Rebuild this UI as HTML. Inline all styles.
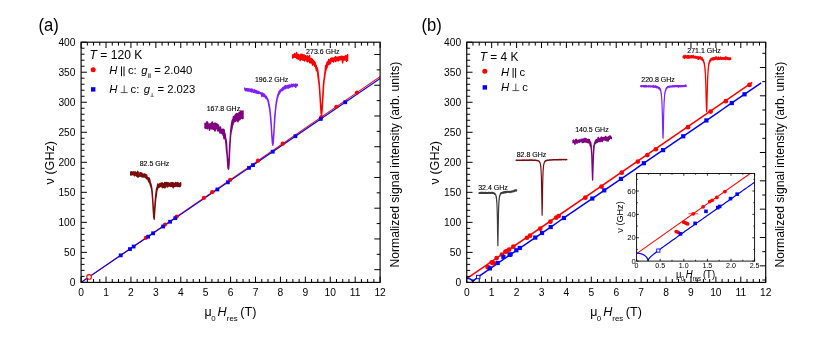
<!DOCTYPE html>
<html><head><meta charset="utf-8"><title>fig</title>
<style>
html,body{margin:0;padding:0;background:#fff;}
body{width:830px;height:342px;overflow:hidden;}
svg{display:block;will-change:transform;}
text{font-family:"Liberation Sans",sans-serif;fill:#000;}
.it{font-style:italic;}
</style></head><body>
<svg width="830" height="342" viewBox="0 0 830 342">
<rect width="830" height="342" fill="#fff"/>
<polygon points="130.7,171.9 131.2,172.7 131.7,171.7 132.2,173.1 132.7,172.8 133.2,171.7 133.7,173.1 134.2,172.1 134.7,172.5 135.2,171.8 135.7,173.2 136.2,173.6 136.7,172.4 137.2,172.4 137.7,171.3 138.2,172.3 138.7,173.0 139.2,173.9 139.7,173.3 140.2,172.7 140.7,172.8 141.2,173.7 141.7,173.0 142.2,173.6 142.7,174.2 143.2,174.1 143.7,174.1 144.2,174.4 144.7,174.0 145.2,174.2 145.7,175.6 146.2,174.8 146.7,175.2 147.2,177.3 147.7,177.8 148.2,177.6 148.7,179.2 149.2,178.1 149.7,179.4 150.2,182.3 150.7,183.4 151.2,185.3 151.7,187.6 152.2,191.9 152.7,199.2 153.2,206.3 153.7,214.5 154.2,215.0 154.7,208.9 155.2,200.9 155.7,195.6 156.2,191.3 156.7,188.0 157.2,187.4 157.7,184.0 158.2,184.9 158.7,185.6 159.2,184.0 159.7,184.2 160.2,183.3 160.7,184.3 161.2,183.2 161.7,183.8 162.2,182.8 162.7,183.3 163.2,183.7 163.7,184.7 164.2,183.9 164.7,182.5 165.2,182.6 165.7,184.5 166.2,182.5 166.7,183.8 167.2,182.6 167.7,183.3 168.2,182.8 168.7,183.4 169.2,183.3 169.7,183.9 170.2,183.3 170.7,182.9 171.2,182.7 171.7,182.9 172.2,183.0 172.7,182.6 173.2,183.8 173.7,183.0 174.2,183.5 174.7,183.5 175.2,183.5 175.7,182.4 176.2,183.7 176.7,183.0 177.2,183.0 177.7,182.5 178.2,183.0 178.7,184.0 179.2,183.7 179.7,183.9 180.2,182.9 180.7,182.8 180.7,185.6 180.2,186.5 179.7,185.4 179.2,186.7 178.7,185.6 178.2,186.2 177.7,186.0 177.2,186.4 176.7,185.9 176.2,186.1 175.7,186.1 175.2,186.5 174.7,186.5 174.2,185.8 173.7,184.8 173.2,187.8 172.7,186.7 172.2,185.8 171.7,186.2 171.2,186.2 170.7,184.9 170.2,186.5 169.7,186.0 169.2,185.1 168.7,185.2 168.2,186.5 167.7,186.3 167.2,187.0 166.7,185.6 166.2,185.2 165.7,185.9 165.2,187.6 164.7,186.1 164.2,187.7 163.7,185.7 163.2,187.3 162.7,186.0 162.2,187.7 161.7,185.5 161.2,185.8 160.7,186.3 160.2,186.4 159.7,187.0 159.2,186.7 158.7,187.3 158.2,186.6 157.7,188.2 157.2,189.7 156.7,191.4 156.2,196.3 155.7,198.6 155.2,205.2 154.7,211.4 154.2,219.2 153.7,216.8 153.2,209.5 152.7,200.4 152.2,194.1 151.7,189.5 151.2,187.6 150.7,186.0 150.2,184.7 149.7,182.7 149.2,182.1 148.7,181.7 148.2,180.2 147.7,178.8 147.2,179.1 146.7,178.6 146.2,178.5 145.7,177.3 145.2,176.6 144.7,177.0 144.2,177.1 143.7,176.2 143.2,176.9 142.7,175.8 142.2,177.0 141.7,176.2 141.2,176.5 140.7,175.5 140.2,175.7 139.7,176.3 139.2,174.9 138.7,175.1 138.2,177.1 137.7,177.1 137.2,176.3 136.7,176.2 136.2,175.0 135.7,174.7 135.2,175.0 134.7,175.8 134.2,174.9 133.7,174.5 133.2,174.9 132.7,173.8 132.2,174.3 131.7,174.9 131.2,174.5 130.7,175.0" fill="#7a0c0c" stroke="#7a0c0c" stroke-width="1.4" stroke-linejoin="round"/>
<polygon points="205.0,123.2 205.5,123.4 206.0,123.9 206.5,123.4 207.0,121.6 207.5,122.2 208.0,123.7 208.5,124.2 209.0,124.6 209.5,124.1 210.0,124.5 210.5,124.2 211.0,123.5 211.5,123.2 212.0,122.4 212.5,122.0 213.0,125.6 213.5,125.0 214.0,123.6 214.5,125.4 215.0,123.0 215.5,125.6 216.0,123.8 216.5,124.2 217.0,123.9 217.5,125.2 218.0,125.6 218.5,125.1 219.0,127.8 219.5,128.5 220.0,127.6 220.5,127.1 221.0,129.3 221.5,129.9 222.0,130.5 222.5,129.5 223.0,129.0 223.5,131.3 224.0,129.7 224.5,132.7 225.0,133.8 225.5,137.4 226.0,139.7 226.5,143.3 227.0,151.1 227.5,158.7 228.0,164.1 228.5,166.1 229.0,160.2 229.5,149.4 230.0,141.4 230.5,134.0 231.0,128.3 231.5,124.1 232.0,121.5 232.5,119.7 233.0,119.1 233.5,116.5 234.0,117.0 234.5,116.7 235.0,115.4 235.5,114.6 236.0,114.0 236.5,114.0 237.0,113.5 237.5,113.9 238.0,116.3 238.5,116.0 239.0,112.5 239.5,115.4 240.0,112.9 240.5,111.0 241.0,114.2 241.5,113.2 242.0,111.1 242.5,112.3 243.0,111.0 243.0,118.6 242.5,115.5 242.0,118.4 241.5,118.1 241.0,115.8 240.5,118.0 240.0,119.5 239.5,118.2 239.0,120.0 238.5,119.0 238.0,121.7 237.5,118.7 237.0,120.8 236.5,119.1 236.0,120.2 235.5,121.3 235.0,120.3 234.5,121.9 234.0,120.5 233.5,120.8 233.0,124.6 232.5,125.2 232.0,128.0 231.5,130.3 231.0,132.5 230.5,136.5 230.0,144.1 229.5,154.0 229.0,164.8 228.5,169.2 228.0,167.7 227.5,160.6 227.0,153.5 226.5,150.7 226.0,143.8 225.5,140.1 225.0,137.7 224.5,137.0 224.0,138.6 223.5,133.9 223.0,135.1 222.5,132.6 222.0,132.6 221.5,133.4 221.0,130.9 220.5,130.4 220.0,133.1 219.5,130.5 219.0,129.7 218.5,129.6 218.0,131.1 217.5,130.4 217.0,128.7 216.5,127.6 216.0,128.0 215.5,128.5 215.0,131.0 214.5,130.0 214.0,127.0 213.5,129.2 213.0,128.8 212.5,127.9 212.0,129.1 211.5,126.0 211.0,128.8 210.5,127.1 210.0,127.2 209.5,130.2 209.0,127.5 208.5,126.5 208.0,126.0 207.5,128.7 207.0,126.8 206.5,125.1 206.0,128.5 205.5,127.9 205.0,127.9" fill="#800080" stroke="#800080" stroke-width="1.45" stroke-linejoin="round"/>
<polygon points="244.8,88.0 245.3,88.8 245.8,88.9 246.3,88.8 246.8,88.8 247.3,89.5 247.8,88.6 248.3,89.1 248.8,88.9 249.3,89.7 249.8,88.9 250.3,89.3 250.8,89.9 251.3,89.2 251.8,89.0 252.3,89.5 252.8,90.6 253.3,90.7 253.8,90.0 254.3,89.7 254.8,90.5 255.3,91.2 255.8,90.3 256.3,91.1 256.8,90.8 257.3,91.4 257.8,91.6 258.3,92.4 258.8,91.4 259.3,92.2 259.8,92.8 260.3,93.0 260.8,92.6 261.3,93.5 261.8,93.7 262.3,92.9 262.8,93.9 263.3,93.5 263.8,94.3 264.3,94.0 264.8,95.0 265.3,96.0 265.8,96.2 266.3,96.1 266.8,97.7 267.3,98.4 267.8,99.5 268.3,100.7 268.8,103.2 269.3,105.6 269.8,108.4 270.3,113.2 270.8,118.3 271.3,125.4 271.8,133.6 272.3,140.3 272.8,143.5 273.3,139.6 273.8,133.1 274.3,124.7 274.8,115.9 275.3,111.2 275.8,106.3 276.3,101.8 276.8,99.6 277.3,97.2 277.8,94.7 278.3,94.1 278.8,92.4 279.3,91.3 279.8,90.7 280.3,90.0 280.8,90.1 281.3,89.1 281.8,88.8 282.3,88.5 282.8,87.6 283.3,88.1 283.8,87.5 284.3,86.4 284.8,86.2 285.3,85.6 285.8,86.1 286.3,86.1 286.8,86.1 287.3,85.5 287.8,86.2 288.3,85.2 288.8,86.1 289.3,85.0 289.8,85.2 290.3,85.4 290.8,85.0 291.3,85.2 291.8,84.1 292.3,85.5 292.8,84.9 293.3,84.4 293.8,84.3 294.3,85.1 294.8,85.0 295.3,84.0 295.8,84.8 296.3,85.1 296.8,84.2 297.3,84.6 297.3,85.6 296.8,85.9 296.3,85.6 295.8,87.4 295.3,86.1 294.8,86.5 294.3,86.2 293.8,86.1 293.3,86.0 292.8,86.0 292.3,86.8 291.8,86.0 291.3,86.5 290.8,86.4 290.3,87.1 289.8,87.4 289.3,87.5 288.8,87.2 288.3,88.2 287.8,86.8 287.3,87.9 286.8,87.2 286.3,87.8 285.8,88.5 285.3,88.2 284.8,88.9 284.3,88.3 283.8,89.0 283.3,89.3 282.8,90.4 282.3,89.2 281.8,90.7 281.3,90.8 280.8,91.0 280.3,91.9 279.8,92.6 279.3,94.0 278.8,94.1 278.3,94.8 277.8,97.3 277.3,98.5 276.8,101.5 276.3,103.3 275.8,108.1 275.3,111.9 274.8,119.1 274.3,125.7 273.8,134.6 273.3,142.1 272.8,145.2 272.3,142.5 271.8,135.2 271.3,127.0 270.8,120.4 270.3,114.9 269.8,110.3 269.3,107.2 268.8,105.2 268.3,102.1 267.8,100.5 267.3,99.4 266.8,98.7 266.3,98.5 265.8,98.3 265.3,96.5 264.8,96.8 264.3,95.9 263.8,96.5 263.3,96.0 262.8,95.8 262.3,95.4 261.8,96.4 261.3,94.3 260.8,93.8 260.3,93.6 259.8,93.3 259.3,93.4 258.8,93.1 258.3,93.6 257.8,93.2 257.3,92.6 256.8,93.3 256.3,92.9 255.8,91.9 255.3,92.8 254.8,91.5 254.3,92.1 253.8,92.4 253.3,92.0 252.8,91.4 252.3,91.6 251.8,92.0 251.3,91.4 250.8,90.8 250.3,91.6 249.8,90.5 249.3,91.1 248.8,90.8 248.3,90.7 247.8,91.1 247.3,90.7 246.8,90.4 246.3,90.8 245.8,90.7 245.3,90.3 244.8,89.4" fill="#8020ff" stroke="#8020ff" stroke-width="1.4" stroke-linejoin="round"/>
<polygon points="292.6,55.3 293.1,54.7 293.6,55.6 294.1,54.5 294.6,53.4 295.1,54.7 295.6,54.4 296.1,54.7 296.6,52.4 297.1,54.5 297.6,54.5 298.1,55.7 298.6,54.4 299.1,56.1 299.6,55.6 300.1,55.0 300.6,56.1 301.1,53.9 301.6,54.9 302.1,56.7 302.6,54.5 303.1,57.3 303.6,55.3 304.1,54.8 304.6,56.8 305.1,57.1 305.6,55.6 306.1,56.7 306.6,57.6 307.1,56.9 307.6,55.8 308.1,57.7 308.6,56.9 309.1,58.5 309.6,55.5 310.1,60.0 310.6,59.0 311.1,59.1 311.6,58.5 312.1,59.0 312.6,60.4 313.1,60.4 313.6,60.4 314.1,61.7 314.6,61.8 315.1,62.6 315.6,64.5 316.1,65.1 316.6,67.5 317.1,67.6 317.6,69.4 318.1,72.7 318.6,77.1 319.1,82.1 319.6,88.0 320.1,95.8 320.6,103.7 321.1,109.7 321.6,110.4 322.1,106.2 322.6,99.7 323.1,90.9 323.6,82.4 324.1,79.0 324.6,74.8 325.1,71.3 325.6,65.5 326.1,66.8 326.6,64.5 327.1,62.1 327.6,61.7 328.1,62.3 328.6,59.5 329.1,60.2 329.6,60.3 330.1,59.6 330.6,58.6 331.1,59.8 331.6,58.0 332.1,57.9 332.6,58.6 333.1,58.1 333.6,58.6 334.1,59.0 334.6,57.5 335.1,57.7 335.6,56.6 336.1,58.2 336.6,57.6 337.1,57.0 337.6,58.4 338.1,57.6 338.6,56.9 339.1,57.9 339.6,56.6 340.1,56.9 340.6,57.3 341.1,56.2 341.6,56.2 342.1,56.3 342.6,57.2 343.1,57.7 343.6,56.6 344.1,57.0 344.6,56.7 345.1,56.3 345.6,55.6 346.1,55.9 346.6,57.6 347.1,55.7 347.6,54.6 347.6,60.5 347.1,59.7 346.6,61.3 346.1,60.5 345.6,58.9 345.1,58.6 344.6,60.1 344.1,59.4 343.6,59.1 343.1,60.4 342.6,62.9 342.1,60.1 341.6,59.1 341.1,59.0 340.6,59.6 340.1,59.9 339.6,59.0 339.1,59.2 338.6,60.9 338.1,59.8 337.6,60.0 337.1,60.8 336.6,60.9 336.1,59.8 335.6,61.6 335.1,59.7 334.6,59.7 334.1,59.6 333.6,62.0 333.1,60.1 332.6,61.4 332.1,60.6 331.6,61.1 331.1,60.7 330.6,63.1 330.1,64.0 329.6,62.5 329.1,64.1 328.6,64.7 328.1,63.0 327.6,63.8 327.1,67.1 326.6,68.2 326.1,69.3 325.6,71.7 325.1,73.6 324.6,77.6 324.1,80.2 323.6,85.9 323.1,94.6 322.6,101.5 322.1,110.4 321.6,114.7 321.1,113.6 320.6,106.0 320.1,98.5 319.6,90.2 319.1,84.5 318.6,80.6 318.1,77.1 317.6,72.6 317.1,70.3 316.6,70.7 316.1,69.4 315.6,66.5 315.1,65.6 314.6,66.2 314.1,64.2 313.6,63.5 313.1,63.9 312.6,65.2 312.1,63.5 311.6,62.8 311.1,62.9 310.6,62.3 310.1,62.9 309.6,62.5 309.1,60.3 308.6,60.1 308.1,60.8 307.6,61.6 307.1,61.8 306.6,58.7 306.1,60.1 305.6,58.8 305.1,58.3 304.6,61.0 304.1,60.1 303.6,59.9 303.1,60.2 302.6,59.8 302.1,59.7 301.6,57.7 301.1,58.7 300.6,59.7 300.1,60.6 299.6,58.2 299.1,57.1 298.6,59.0 298.1,59.3 297.6,57.0 297.1,58.0 296.6,58.4 296.1,57.7 295.6,56.8 295.1,57.2 294.6,56.4 294.1,56.5 293.6,57.6 293.1,56.8 292.6,58.0" fill="#ff0000" stroke="#ff0000" stroke-width="1.4" stroke-linejoin="round"/>
<line x1="81.10" y1="282.40" x2="380.10" y2="76.67" stroke="#ff0000" stroke-width="1.1"/>
<line x1="81.10" y1="282.40" x2="380.10" y2="78.47" stroke="#0000ff" stroke-width="1.1"/>
<circle cx="145.88" cy="237.82" r="2.1" fill="#ff0000"/>
<circle cx="165.07" cy="224.62" r="2.1" fill="#ff0000"/>
<circle cx="176.78" cy="216.57" r="2.1" fill="#ff0000"/>
<circle cx="203.94" cy="197.88" r="2.1" fill="#ff0000"/>
<circle cx="212.16" cy="192.22" r="2.1" fill="#ff0000"/>
<circle cx="230.10" cy="179.88" r="2.1" fill="#ff0000"/>
<circle cx="258.01" cy="160.68" r="2.1" fill="#ff0000"/>
<circle cx="282.68" cy="143.70" r="2.1" fill="#ff0000"/>
<circle cx="321.30" cy="117.13" r="2.1" fill="#ff0000"/>
<circle cx="336.25" cy="106.84" r="2.1" fill="#ff0000"/>
<circle cx="356.93" cy="92.61" r="2.1" fill="#ff0000"/>
<rect x="118.82" y="253.48" width="3.8" height="3.8" fill="#0000ff"/>
<rect x="128.04" y="247.19" width="3.8" height="3.8" fill="#0000ff"/>
<rect x="131.77" y="244.64" width="3.8" height="3.8" fill="#0000ff"/>
<rect x="146.23" y="234.79" width="3.8" height="3.8" fill="#0000ff"/>
<rect x="151.21" y="231.39" width="3.8" height="3.8" fill="#0000ff"/>
<rect x="161.18" y="224.59" width="3.8" height="3.8" fill="#0000ff"/>
<rect x="168.15" y="219.83" width="3.8" height="3.8" fill="#0000ff"/>
<rect x="173.38" y="216.26" width="3.8" height="3.8" fill="#0000ff"/>
<rect x="215.49" y="187.54" width="3.8" height="3.8" fill="#0000ff"/>
<rect x="225.96" y="180.40" width="3.8" height="3.8" fill="#0000ff"/>
<rect x="247.14" y="165.96" width="3.8" height="3.8" fill="#0000ff"/>
<rect x="251.12" y="163.24" width="3.8" height="3.8" fill="#0000ff"/>
<rect x="270.81" y="149.81" width="3.8" height="3.8" fill="#0000ff"/>
<rect x="293.48" y="134.35" width="3.8" height="3.8" fill="#0000ff"/>
<rect x="318.90" y="117.02" width="3.8" height="3.8" fill="#0000ff"/>
<rect x="343.32" y="100.36" width="3.8" height="3.8" fill="#0000ff"/>
<circle cx="89.07" cy="276.88" r="2.3" fill="#fff" stroke="#ff0000" stroke-width="1.1"/>
<rect x="81.1" y="42.2" width="299.0" height="240.2" fill="none" stroke="#000" stroke-width="1.15"/>
<path d="M81.10,282.4v-5.8 M81.10,42.2v5.8 M87.33,282.4v-3.4 M87.33,42.2v3.4 M93.56,282.4v-3.4 M93.56,42.2v3.4 M99.79,282.4v-3.4 M99.79,42.2v3.4 M106.02,282.4v-5.8 M106.02,42.2v5.8 M112.25,282.4v-3.4 M112.25,42.2v3.4 M118.47,282.4v-3.4 M118.47,42.2v3.4 M124.70,282.4v-3.4 M124.70,42.2v3.4 M130.93,282.4v-5.8 M130.93,42.2v5.8 M137.16,282.4v-3.4 M137.16,42.2v3.4 M143.39,282.4v-3.4 M143.39,42.2v3.4 M149.62,282.4v-3.4 M149.62,42.2v3.4 M155.85,282.4v-5.8 M155.85,42.2v5.8 M162.08,282.4v-3.4 M162.08,42.2v3.4 M168.31,282.4v-3.4 M168.31,42.2v3.4 M174.54,282.4v-3.4 M174.54,42.2v3.4 M180.77,282.4v-5.8 M180.77,42.2v5.8 M187.00,282.4v-3.4 M187.00,42.2v3.4 M193.22,282.4v-3.4 M193.22,42.2v3.4 M199.45,282.4v-3.4 M199.45,42.2v3.4 M205.68,282.4v-5.8 M205.68,42.2v5.8 M211.91,282.4v-3.4 M211.91,42.2v3.4 M218.14,282.4v-3.4 M218.14,42.2v3.4 M224.37,282.4v-3.4 M224.37,42.2v3.4 M230.60,282.4v-5.8 M230.60,42.2v5.8 M236.83,282.4v-3.4 M236.83,42.2v3.4 M243.06,282.4v-3.4 M243.06,42.2v3.4 M249.29,282.4v-3.4 M249.29,42.2v3.4 M255.52,282.4v-5.8 M255.52,42.2v5.8 M261.75,282.4v-3.4 M261.75,42.2v3.4 M267.98,282.4v-3.4 M267.98,42.2v3.4 M274.20,282.4v-3.4 M274.20,42.2v3.4 M280.43,282.4v-5.8 M280.43,42.2v5.8 M286.66,282.4v-3.4 M286.66,42.2v3.4 M292.89,282.4v-3.4 M292.89,42.2v3.4 M299.12,282.4v-3.4 M299.12,42.2v3.4 M305.35,282.4v-5.8 M305.35,42.2v5.8 M311.58,282.4v-3.4 M311.58,42.2v3.4 M317.81,282.4v-3.4 M317.81,42.2v3.4 M324.04,282.4v-3.4 M324.04,42.2v3.4 M330.27,282.4v-5.8 M330.27,42.2v5.8 M336.50,282.4v-3.4 M336.50,42.2v3.4 M342.73,282.4v-3.4 M342.73,42.2v3.4 M348.95,282.4v-3.4 M348.95,42.2v3.4 M355.18,282.4v-5.8 M355.18,42.2v5.8 M361.41,282.4v-3.4 M361.41,42.2v3.4 M367.64,282.4v-3.4 M367.64,42.2v3.4 M373.87,282.4v-3.4 M373.87,42.2v3.4 M380.10,282.4v-5.8 M380.10,42.2v5.8 M81.1,282.40h5.8 M81.1,276.39h3.4 M81.1,270.39h3.4 M81.1,264.38h3.4 M81.1,258.38h3.4 M81.1,252.37h5.8 M81.1,246.37h3.4 M81.1,240.36h3.4 M81.1,234.36h3.4 M81.1,228.35h3.4 M81.1,222.35h5.8 M81.1,216.34h3.4 M81.1,210.34h3.4 M81.1,204.33h3.4 M81.1,198.33h3.4 M81.1,192.32h5.8 M81.1,186.32h3.4 M81.1,180.31h3.4 M81.1,174.31h3.4 M81.1,168.31h3.4 M81.1,162.30h5.8 M81.1,156.29h3.4 M81.1,150.29h3.4 M81.1,144.28h3.4 M81.1,138.28h3.4 M81.1,132.28h5.8 M81.1,126.27h3.4 M81.1,120.26h3.4 M81.1,114.26h3.4 M81.1,108.25h3.4 M81.1,102.25h5.8 M81.1,96.25h3.4 M81.1,90.24h3.4 M81.1,84.24h3.4 M81.1,78.23h3.4 M81.1,72.22h5.8 M81.1,66.22h3.4 M81.1,60.22h3.4 M81.1,54.21h3.4 M81.1,48.21h3.4 M81.1,42.20h5.8 M380.1,54.50h-5.8 M380.1,69.87h-3.4 M380.1,85.24h-5.8 M380.1,100.61h-3.4 M380.1,115.98h-5.8 M380.1,131.35h-3.4 M380.1,146.72h-5.8 M380.1,162.09h-3.4 M380.1,177.46h-5.8 M380.1,192.83h-3.4 M380.1,208.20h-5.8 M380.1,223.57h-3.4 M380.1,238.94h-5.8 M380.1,254.31h-3.4 M380.1,269.68h-5.8" stroke="#000" stroke-width="1.0" fill="none"/>
<text x="81.10" y="296.09999999999997" font-size="10.25" text-anchor="middle">0</text>
<text x="106.02" y="296.09999999999997" font-size="10.25" text-anchor="middle">1</text>
<text x="130.93" y="296.09999999999997" font-size="10.25" text-anchor="middle">2</text>
<text x="155.85" y="296.09999999999997" font-size="10.25" text-anchor="middle">3</text>
<text x="180.77" y="296.09999999999997" font-size="10.25" text-anchor="middle">4</text>
<text x="205.68" y="296.09999999999997" font-size="10.25" text-anchor="middle">5</text>
<text x="230.60" y="296.09999999999997" font-size="10.25" text-anchor="middle">6</text>
<text x="255.52" y="296.09999999999997" font-size="10.25" text-anchor="middle">7</text>
<text x="280.43" y="296.09999999999997" font-size="10.25" text-anchor="middle">8</text>
<text x="305.35" y="296.09999999999997" font-size="10.25" text-anchor="middle">9</text>
<text x="330.27" y="296.09999999999997" font-size="10.25" text-anchor="middle">10</text>
<text x="355.18" y="296.09999999999997" font-size="10.25" text-anchor="middle">11</text>
<text x="380.10" y="296.09999999999997" font-size="10.25" text-anchor="middle">12</text>
<text x="75.5" y="286.10" font-size="10.25" text-anchor="end">0</text>
<text x="75.5" y="256.07" font-size="10.25" text-anchor="end">50</text>
<text x="75.5" y="226.05" font-size="10.25" text-anchor="end">100</text>
<text x="75.5" y="196.02" font-size="10.25" text-anchor="end">150</text>
<text x="75.5" y="166.00" font-size="10.25" text-anchor="end">200</text>
<text x="75.5" y="135.97" font-size="10.25" text-anchor="end">250</text>
<text x="75.5" y="105.95" font-size="10.25" text-anchor="end">300</text>
<text x="75.5" y="75.92" font-size="10.25" text-anchor="end">350</text>
<text x="75.5" y="45.90" font-size="10.25" text-anchor="end">400</text>
<text x="139.7" y="165.8" font-size="7.0" stroke="#000" stroke-width="0.12">82.5 GHz</text>
<text x="206.7" y="110.7" font-size="7.0" stroke="#000" stroke-width="0.12">167.8 GHz</text>
<text x="254.9" y="81.9" font-size="7.0" stroke="#000" stroke-width="0.12">196.2 GHz</text>
<text x="306.1" y="54.1" font-size="7.0" stroke="#000" stroke-width="0.12">273.6 GHz</text>
<text x="89.5" y="58.7" font-size="12.1"><tspan class="it">T</tspan> = 120 K</text>
<circle cx="93.20" cy="69.70" r="2.5" fill="#ff0000"/>
<text x="109.3" y="74.1" font-size="11.3" class="it">H</text>
<path d="M121.5,66.39999999999999v9.8M124.0,66.39999999999999v9.8" stroke="#000" stroke-width="0.95" fill="none"/>
<rect x="91.00" y="87.20" width="4.4" height="4.4" fill="#0000ff"/>
<text x="109.3" y="92.9" font-size="11.3" class="it">H</text>
<path d="M120.7,92.60000000000001h7.0M124.2,92.60000000000001v-7" stroke="#222" stroke-width="0.75" fill="none"/>
<text x="127.9" y="74.1" font-size="11.3">c:</text>
<text x="141.2" y="74.1" font-size="11.3" class="it">g</text>
<path d="M148.7,73.39999999999999v4.6M150.2,73.39999999999999v4.6" stroke="#000" stroke-width="0.7" fill="none"/>
<text x="154.3" y="74.1" font-size="11.3">= 2.040</text>
<text x="130.6" y="92.9" font-size="11.3">c:</text>
<text x="143.8" y="92.9" font-size="11.3" class="it">g</text>
<path d="M150.5,96.30000000000001h3.3M152.15,96.30000000000001v-3.2" stroke="#222" stroke-width="0.6" fill="none"/>
<text x="157.4" y="92.9" font-size="11.3">= 2.023</text>
<text transform="translate(38.4,30.6) scale(0.93,1)" font-size="17.9">(a)</text>
<text transform="translate(54.3,162.7) rotate(-90)" font-size="12.6" text-anchor="middle">ν (GHz)</text>
<text x="204.6" y="316.3" font-size="12.4">μ</text>
<text x="211.2" y="320.6" font-size="7.9">0</text>
<text x="217.6" y="316.3" font-size="12.6" class="it">H</text>
<text x="226.79999999999998" y="320.6" font-size="7.9">res</text>
<text x="240.3" y="316.3" font-size="12.6">(T)</text>
<text transform="translate(398.5,164.6) rotate(-90)" font-size="12.15" text-anchor="middle">Normalized signal intensity (arb. units)</text>
<polygon points="478.9,192.9 479.1,192.8 479.4,192.7 479.6,192.8 479.9,192.8 480.1,192.4 480.4,192.7 480.6,192.8 480.9,192.4 481.1,192.4 481.4,192.6 481.6,192.4 481.9,192.1 482.1,192.7 482.4,192.9 482.6,192.6 482.9,192.3 483.1,192.5 483.4,192.8 483.6,192.5 483.9,192.4 484.1,192.7 484.4,192.7 484.6,192.7 484.9,192.6 485.1,192.3 485.4,192.5 485.6,192.4 485.9,192.5 486.1,192.6 486.4,192.7 486.6,192.7 486.9,192.4 487.1,192.6 487.4,192.8 487.6,192.7 487.9,192.5 488.1,192.6 488.4,192.7 488.6,192.2 488.9,192.7 489.1,192.5 489.4,192.4 489.6,192.6 489.9,192.6 490.1,192.5 490.4,192.6 490.6,192.7 490.9,192.8 491.1,192.3 491.4,192.4 491.6,192.4 491.9,192.8 492.1,192.3 492.4,192.4 492.6,192.8 492.9,192.5 493.1,192.5 493.4,193.1 493.6,192.9 493.9,192.7 494.1,193.1 494.4,193.0 494.6,193.4 494.9,193.3 495.1,194.0 495.4,194.0 495.6,194.3 495.9,195.4 496.1,195.9 496.4,197.3 496.6,199.6 496.9,202.4 497.1,208.3 497.4,218.7 497.6,234.5 497.9,245.1 498.1,234.1 498.4,218.2 498.6,208.4 498.9,202.3 499.1,199.0 499.4,197.1 499.6,196.1 499.9,194.8 500.1,194.4 500.4,193.7 500.6,193.4 500.9,192.9 501.1,192.6 501.4,192.7 501.6,192.7 501.9,192.6 502.1,192.7 502.4,192.4 502.6,192.1 502.9,192.3 503.1,192.0 503.4,191.9 503.6,192.1 503.9,191.8 504.1,191.8 504.4,191.6 504.6,191.9 504.9,191.6 505.1,191.5 505.4,191.8 505.6,191.9 505.9,191.7 506.1,191.2 506.4,191.8 506.6,191.4 506.9,191.7 507.1,191.5 507.4,191.4 507.6,191.6 507.9,191.4 508.1,191.6 508.4,191.4 508.6,191.6 508.9,191.5 509.1,191.7 509.4,191.4 509.6,191.4 509.9,191.5 510.1,191.6 510.4,191.3 510.6,191.5 510.9,191.5 511.1,191.2 511.4,191.1 511.6,191.1 511.9,191.3 512.1,191.0 512.4,191.2 512.6,190.9 512.9,191.3 513.1,190.8 513.4,190.9 513.6,190.8 513.9,190.6 514.1,190.5 514.4,189.9 514.6,190.3 514.9,190.5 515.1,190.3 515.4,190.5 515.6,190.1 515.9,189.7 516.1,190.2 516.4,190.0 516.6,189.8 516.6,191.0 516.4,191.1 516.1,190.6 515.9,190.6 515.6,190.9 515.4,190.9 515.1,191.0 514.9,191.1 514.6,191.5 514.4,191.2 514.1,191.3 513.9,191.7 513.6,191.7 513.4,191.8 513.1,191.5 512.9,191.5 512.6,192.0 512.4,191.9 512.1,192.0 511.9,192.1 511.6,192.0 511.4,192.0 511.1,192.2 510.9,192.1 510.6,191.8 510.4,192.1 510.1,192.6 509.9,192.6 509.6,192.0 509.4,192.1 509.1,192.1 508.9,192.0 508.6,192.1 508.4,191.9 508.1,192.5 507.9,192.1 507.6,192.1 507.4,192.2 507.1,192.3 506.9,192.5 506.6,192.1 506.4,192.4 506.1,192.6 505.9,192.9 505.6,192.6 505.4,192.4 505.1,192.5 504.9,192.7 504.6,192.9 504.4,192.7 504.1,192.4 503.9,193.1 503.6,192.8 503.4,192.7 503.1,193.3 502.9,193.1 502.6,192.8 502.4,192.8 502.1,193.3 501.9,193.2 501.6,193.5 501.4,193.2 501.1,193.6 500.9,194.1 500.6,193.9 500.4,194.4 500.1,195.1 499.9,195.8 499.6,196.5 499.4,197.8 499.1,200.2 498.9,203.4 498.6,209.2 498.4,219.1 498.1,235.1 497.9,245.8 497.6,234.9 497.4,219.2 497.1,209.1 496.9,203.3 496.6,200.7 496.4,197.8 496.1,196.5 495.9,195.5 495.6,195.1 495.4,194.5 495.1,194.4 494.9,194.4 494.6,193.9 494.4,194.2 494.1,193.8 493.9,193.6 493.6,193.3 493.4,193.4 493.1,193.4 492.9,193.5 492.6,193.3 492.4,193.1 492.1,193.5 491.9,193.0 491.6,193.0 491.4,193.2 491.1,193.1 490.9,193.4 490.6,193.1 490.4,193.5 490.1,193.1 489.9,193.4 489.6,193.3 489.4,193.0 489.1,193.2 488.9,193.2 488.6,193.3 488.4,193.4 488.1,193.4 487.9,193.3 487.6,193.5 487.4,193.1 487.1,193.5 486.9,193.5 486.6,193.3 486.4,193.2 486.1,193.4 485.9,193.3 485.6,193.2 485.4,193.4 485.1,193.2 484.9,193.5 484.6,193.3 484.4,193.3 484.1,193.5 483.9,193.2 483.6,193.0 483.4,193.5 483.1,193.1 482.9,193.5 482.6,193.2 482.4,193.3 482.1,193.0 481.9,193.1 481.6,193.1 481.4,193.2 481.1,193.5 480.9,193.3 480.6,193.0 480.4,193.0 480.1,193.5 479.9,193.1 479.6,193.3 479.4,193.1 479.1,193.3 478.9,193.3" fill="#3c3c3c" stroke="#3c3c3c" stroke-width="1.15" stroke-linejoin="round"/>
<polygon points="516.1,160.0 516.4,160.2 516.6,160.1 516.9,160.0 517.1,160.1 517.4,160.1 517.6,160.1 517.9,160.2 518.1,160.2 518.4,160.1 518.6,160.0 518.9,160.0 519.1,160.0 519.4,160.0 519.6,160.0 519.9,160.1 520.1,160.1 520.4,160.0 520.6,160.0 520.9,160.0 521.1,160.0 521.4,160.0 521.6,160.0 521.9,160.1 522.1,160.0 522.4,160.0 522.6,160.0 522.9,159.9 523.1,159.9 523.4,160.0 523.6,160.0 523.9,160.0 524.1,159.9 524.4,159.9 524.6,160.1 524.9,159.9 525.1,160.1 525.4,160.1 525.6,160.1 525.9,160.1 526.1,159.9 526.4,159.9 526.6,160.0 526.9,160.0 527.1,159.9 527.4,160.0 527.6,160.1 527.9,160.1 528.1,160.0 528.4,160.0 528.6,160.0 528.9,160.0 529.1,159.8 529.4,160.0 529.6,159.9 529.9,160.0 530.1,159.9 530.4,159.9 530.6,159.9 530.9,160.1 531.1,159.8 531.4,160.0 531.6,159.9 531.9,160.1 532.1,159.9 532.4,159.9 532.6,160.1 532.9,160.0 533.1,160.0 533.4,160.1 533.6,160.1 533.9,160.1 534.1,160.2 534.4,160.2 534.6,160.0 534.9,160.1 535.1,160.2 535.4,160.1 535.6,160.1 535.9,160.3 536.1,160.3 536.4,160.2 536.6,160.2 536.9,160.4 537.1,160.3 537.4,160.3 537.6,160.5 537.9,160.5 538.1,160.7 538.4,160.9 538.6,160.8 538.9,161.0 539.1,161.2 539.4,161.6 539.6,162.0 539.9,162.3 540.1,163.0 540.4,164.0 540.6,165.1 540.9,167.3 541.1,170.8 541.4,176.8 541.6,187.5 541.9,203.9 542.1,215.1 542.4,203.8 542.6,187.5 542.9,176.7 543.1,170.9 543.4,167.4 543.6,165.3 543.9,164.0 544.1,163.1 544.4,162.3 544.6,161.7 544.9,161.5 545.1,161.1 545.4,160.9 545.6,160.5 545.9,160.5 546.1,160.5 546.4,160.3 546.6,160.3 546.9,160.3 547.1,160.1 547.4,160.1 547.6,160.2 547.9,160.1 548.1,160.1 548.4,160.1 548.6,160.1 548.9,160.1 549.1,159.9 549.4,160.0 549.6,160.0 549.9,159.8 550.1,159.8 550.4,159.8 550.6,159.8 550.9,159.7 551.1,159.8 551.4,159.8 551.6,159.7 551.9,159.7 552.1,159.6 552.4,159.8 552.6,159.8 552.9,159.8 553.1,159.8 553.4,159.6 553.6,159.7 553.9,159.7 554.1,159.6 554.4,159.8 554.6,159.6 554.9,159.6 555.1,159.7 555.4,159.6 555.6,159.6 555.9,159.5 556.1,159.6 556.4,159.6 556.6,159.7 556.9,159.6 557.1,159.6 557.4,159.6 557.6,159.4 557.9,159.5 558.1,159.6 558.4,159.5 558.6,159.6 558.9,159.6 559.1,159.5 559.4,159.3 559.6,159.4 559.9,159.5 560.1,159.5 560.4,159.6 560.6,159.3 560.9,159.5 561.1,159.6 561.4,159.4 561.6,159.4 561.9,159.5 562.1,159.5 562.4,159.5 562.6,159.4 562.9,159.5 563.1,159.6 563.4,159.4 563.6,159.5 563.9,159.4 564.1,159.5 564.4,159.3 564.6,159.5 564.9,159.5 565.1,159.5 565.4,159.5 565.6,159.5 565.9,159.3 566.1,159.3 566.4,159.5 566.6,159.5 566.9,159.5 566.9,159.7 566.6,159.7 566.4,159.7 566.1,159.7 565.9,159.8 565.6,159.8 565.4,159.8 565.1,159.6 564.9,159.6 564.6,159.6 564.4,159.7 564.1,159.8 563.9,159.8 563.6,159.7 563.4,159.8 563.1,159.6 562.9,159.6 562.6,159.7 562.4,159.7 562.1,159.7 561.9,159.8 561.6,159.7 561.4,159.9 561.1,159.7 560.9,159.9 560.6,159.9 560.4,159.8 560.1,159.8 559.9,159.8 559.6,159.9 559.4,159.9 559.1,159.9 558.9,159.9 558.6,159.7 558.4,159.9 558.1,159.8 557.9,159.8 557.6,159.8 557.4,159.8 557.1,160.0 556.9,159.8 556.6,159.9 556.4,159.8 556.1,160.1 555.9,160.0 555.6,159.8 555.4,159.9 555.1,160.0 554.9,160.0 554.6,160.0 554.4,159.9 554.1,160.0 553.9,160.1 553.6,160.0 553.4,159.9 553.1,159.9 552.9,160.0 552.6,160.0 552.4,160.1 552.1,160.0 551.9,160.0 551.6,160.0 551.4,160.1 551.1,160.3 550.9,160.0 550.6,160.1 550.4,160.0 550.1,160.2 549.9,160.1 549.6,160.2 549.4,160.2 549.1,160.3 548.9,160.2 548.6,160.3 548.4,160.2 548.1,160.4 547.9,160.2 547.6,160.5 547.4,160.5 547.1,160.6 546.9,160.4 546.6,160.5 546.4,160.6 546.1,160.9 545.9,160.8 545.6,161.1 545.4,161.3 545.1,161.5 544.9,161.6 544.6,162.1 544.4,162.6 544.1,163.3 543.9,164.2 543.6,165.5 543.4,167.6 543.1,171.2 542.9,177.0 542.6,187.7 542.4,204.3 542.1,215.2 541.9,204.4 541.6,187.7 541.4,177.2 541.1,171.0 540.9,167.6 540.6,165.5 540.4,164.1 540.1,163.2 539.9,162.6 539.6,162.3 539.4,161.8 539.1,161.6 538.9,161.3 538.6,161.1 538.4,160.9 538.1,160.9 537.9,160.8 537.6,160.8 537.4,160.8 537.1,160.6 536.9,160.7 536.6,160.5 536.4,160.6 536.1,160.5 535.9,160.4 535.6,160.5 535.4,160.5 535.1,160.4 534.9,160.5 534.6,160.3 534.4,160.4 534.1,160.3 533.9,160.3 533.6,160.4 533.4,160.2 533.1,160.2 532.9,160.4 532.6,160.3 532.4,160.4 532.1,160.2 531.9,160.3 531.6,160.2 531.4,160.2 531.1,160.3 530.9,160.4 530.6,160.3 530.4,160.2 530.1,160.2 529.9,160.4 529.6,160.3 529.4,160.2 529.1,160.4 528.9,160.4 528.6,160.3 528.4,160.4 528.1,160.3 527.9,160.3 527.6,160.3 527.4,160.3 527.1,160.4 526.9,160.3 526.6,160.4 526.4,160.3 526.1,160.4 525.9,160.3 525.6,160.4 525.4,160.3 525.1,160.5 524.9,160.5 524.6,160.3 524.4,160.3 524.1,160.2 523.9,160.3 523.6,160.4 523.4,160.4 523.1,160.4 522.9,160.4 522.6,160.2 522.4,160.5 522.1,160.3 521.9,160.4 521.6,160.4 521.4,160.2 521.1,160.4 520.9,160.3 520.6,160.2 520.4,160.3 520.1,160.4 519.9,160.4 519.6,160.3 519.4,160.4 519.1,160.4 518.9,160.3 518.6,160.5 518.4,160.5 518.1,160.5 517.9,160.3 517.6,160.4 517.4,160.4 517.1,160.3 516.9,160.3 516.6,160.3 516.4,160.3 516.1,160.3" fill="#7a0c0c" stroke="#7a0c0c" stroke-width="1.15" stroke-linejoin="round"/>
<polygon points="573.0,140.5 573.4,140.0 573.8,141.4 574.2,140.9 574.6,140.8 575.0,141.0 575.4,139.7 575.8,141.0 576.2,139.1 576.6,141.0 577.0,140.5 577.4,140.4 577.8,140.8 578.2,140.2 578.6,140.1 579.0,140.4 579.4,139.7 579.8,140.6 580.2,140.5 580.6,140.3 581.0,139.1 581.4,140.5 581.8,139.3 582.2,139.4 582.6,140.5 583.0,138.9 583.4,139.0 583.8,139.9 584.2,140.2 584.6,138.7 585.0,138.3 585.4,140.1 585.8,138.7 586.2,139.7 586.6,138.9 587.0,140.8 587.4,139.7 587.8,139.5 588.2,140.1 588.6,139.3 589.0,140.3 589.4,139.6 589.8,141.0 590.2,142.4 590.6,142.2 591.0,144.0 591.4,148.0 591.8,154.2 592.2,167.9 592.6,177.9 593.0,166.6 593.4,153.8 593.8,145.7 594.2,144.9 594.6,142.9 595.0,141.9 595.4,140.7 595.8,141.1 596.2,139.5 596.6,139.9 597.0,139.7 597.4,140.1 597.8,139.1 598.2,137.3 598.6,138.9 599.0,139.4 599.4,138.4 599.8,139.5 600.2,138.3 600.6,137.9 601.0,139.0 601.4,137.0 601.8,138.3 602.2,138.0 602.6,137.7 603.0,138.3 603.4,137.4 603.8,137.5 604.2,138.5 604.6,137.7 605.0,138.2 605.4,136.4 605.8,137.6 606.2,137.7 606.6,137.0 607.0,138.2 607.4,137.4 607.8,137.7 608.2,137.2 608.6,136.7 609.0,137.0 609.4,136.4 609.8,136.0 610.2,137.1 610.6,136.0 611.0,137.4 611.4,137.5 611.4,138.5 611.0,138.4 610.6,138.1 610.2,138.2 609.8,138.0 609.4,139.4 609.0,138.4 608.6,139.7 608.2,141.1 607.8,140.0 607.4,138.7 607.0,141.0 606.6,139.8 606.2,139.9 605.8,140.2 605.4,139.3 605.0,140.2 604.6,139.6 604.2,139.1 603.8,139.5 603.4,140.0 603.0,139.6 602.6,139.7 602.2,141.6 601.8,140.4 601.4,141.1 601.0,140.9 600.6,141.5 600.2,140.8 599.8,141.6 599.4,141.6 599.0,140.1 598.6,141.4 598.2,141.4 597.8,142.2 597.4,141.2 597.0,142.1 596.6,142.5 596.2,142.5 595.8,143.0 595.4,143.5 595.0,143.2 594.6,144.2 594.2,145.6 593.8,150.5 593.4,155.9 593.0,168.8 592.6,180.0 592.2,169.7 591.8,155.5 591.4,150.5 591.0,146.6 590.6,146.3 590.2,145.8 589.8,142.9 589.4,143.0 589.0,142.4 588.6,141.7 588.2,143.0 587.8,142.3 587.4,141.4 587.0,142.5 586.6,141.9 586.2,142.2 585.8,141.9 585.4,141.5 585.0,141.8 584.6,141.6 584.2,141.9 583.8,142.5 583.4,141.4 583.0,141.3 582.6,142.4 582.2,142.6 581.8,141.3 581.4,141.3 581.0,141.2 580.6,141.4 580.2,141.3 579.8,142.3 579.4,142.3 579.0,142.5 578.6,141.7 578.2,141.5 577.8,142.0 577.4,141.6 577.0,143.4 576.6,142.3 576.2,141.7 575.8,142.7 575.4,142.7 575.0,144.4 574.6,142.9 574.2,142.2 573.8,142.6 573.4,142.5 573.0,142.9" fill="#800080" stroke="#800080" stroke-width="1.3" stroke-linejoin="round"/>
<polygon points="640.6,85.9 640.9,85.7 641.1,85.7 641.4,85.6 641.6,86.0 641.9,86.2 642.1,85.9 642.4,85.6 642.6,86.0 642.9,85.8 643.1,85.5 643.4,85.8 643.6,85.9 643.9,86.0 644.1,85.8 644.4,85.5 644.6,85.7 644.9,85.6 645.1,86.0 645.4,85.4 645.6,85.5 645.9,85.4 646.1,85.8 646.4,85.5 646.6,85.9 646.9,86.1 647.1,86.0 647.4,86.0 647.6,86.1 647.9,85.9 648.1,86.1 648.4,86.1 648.6,85.6 648.9,86.0 649.1,85.8 649.4,86.0 649.6,85.9 649.9,85.7 650.1,85.7 650.4,85.9 650.6,86.1 650.9,86.1 651.1,85.8 651.4,86.3 651.6,86.1 651.9,86.3 652.1,86.0 652.4,85.8 652.6,86.0 652.9,86.2 653.1,86.2 653.4,85.4 653.6,86.1 653.9,86.1 654.1,86.4 654.4,86.4 654.6,86.0 654.9,86.4 655.1,86.1 655.4,85.7 655.6,86.6 655.9,86.7 656.1,86.5 656.4,86.3 656.6,86.2 656.9,86.4 657.1,86.7 657.4,86.9 657.6,86.7 657.9,86.9 658.1,87.0 658.4,87.3 658.6,87.5 658.9,87.3 659.1,87.6 659.4,87.6 659.6,88.0 659.9,88.3 660.1,88.7 660.4,89.1 660.6,90.3 660.9,91.0 661.1,92.4 661.4,93.8 661.6,97.2 661.9,100.8 662.1,106.3 662.4,114.7 662.6,126.1 662.9,136.3 663.1,137.9 663.4,127.7 663.6,117.1 663.9,108.2 664.1,101.6 664.4,97.9 664.6,94.8 664.9,92.7 665.1,91.7 665.4,90.4 665.6,89.8 665.9,89.2 666.1,88.2 666.4,88.3 666.6,87.8 666.9,87.6 667.1,87.0 667.4,87.1 667.6,86.5 667.9,86.9 668.1,86.6 668.4,86.9 668.6,86.5 668.9,86.2 669.1,86.4 669.4,86.4 669.6,86.5 669.9,86.1 670.1,86.1 670.4,86.0 670.6,86.3 670.9,86.2 671.1,86.1 671.4,86.0 671.6,86.0 671.9,86.2 672.1,85.9 672.4,85.6 672.6,85.9 672.9,86.0 673.1,85.8 673.4,85.7 673.6,85.7 673.9,85.6 674.1,86.1 674.4,86.0 674.6,85.8 674.9,85.6 675.1,85.6 675.4,85.9 675.6,85.5 675.9,86.0 676.1,85.9 676.4,86.1 676.6,85.3 676.9,85.9 677.1,85.9 677.4,85.5 677.6,85.9 677.9,86.1 678.1,85.7 678.4,85.5 678.6,85.8 678.9,85.7 679.1,85.5 679.4,85.8 679.6,85.6 679.9,85.6 680.1,85.8 680.4,85.9 680.6,85.6 680.9,85.9 681.1,86.0 681.4,85.6 681.6,86.1 681.9,85.9 682.1,86.0 682.4,85.5 682.6,86.0 682.9,86.0 683.1,85.7 683.4,85.6 683.6,85.7 683.9,85.9 684.1,85.6 684.4,85.5 684.6,85.4 684.9,85.4 685.1,85.4 685.4,84.8 685.6,85.6 685.9,85.8 686.1,85.2 686.1,86.6 685.9,86.1 685.6,86.5 685.4,86.2 685.1,86.5 684.9,86.6 684.6,86.1 684.4,86.1 684.1,86.5 683.9,86.1 683.6,86.2 683.4,86.7 683.1,86.5 682.9,86.3 682.6,86.6 682.4,86.2 682.1,86.4 681.9,86.6 681.6,86.8 681.4,86.5 681.1,86.6 680.9,86.4 680.6,86.8 680.4,86.4 680.1,86.5 679.9,86.5 679.6,86.6 679.4,86.4 679.1,86.5 678.9,86.6 678.6,87.3 678.4,86.6 678.1,86.4 677.9,86.7 677.6,86.8 677.4,86.7 677.1,86.7 676.9,86.2 676.6,86.7 676.4,86.7 676.1,86.3 675.9,86.4 675.6,86.4 675.4,86.6 675.1,86.6 674.9,86.9 674.6,86.6 674.4,86.5 674.1,86.3 673.9,86.8 673.6,86.7 673.4,86.8 673.1,86.8 672.9,86.4 672.6,86.8 672.4,86.4 672.1,86.5 671.9,86.9 671.6,87.0 671.4,87.0 671.1,86.6 670.9,86.9 670.6,86.9 670.4,87.0 670.1,87.1 669.9,87.3 669.6,86.8 669.4,86.8 669.1,86.9 668.9,87.1 668.6,87.0 668.4,87.1 668.1,87.2 667.9,87.7 667.6,87.5 667.4,87.9 667.1,88.2 666.9,88.3 666.6,88.4 666.4,88.8 666.1,89.1 665.9,90.3 665.6,90.3 665.4,91.3 665.1,91.9 664.9,93.3 664.6,95.4 664.4,98.6 664.1,102.7 663.9,108.4 663.6,117.8 663.4,129.3 663.1,138.3 662.9,137.0 662.6,127.2 662.4,116.1 662.1,107.3 661.9,101.7 661.6,97.7 661.4,95.2 661.1,93.1 660.9,91.7 660.6,91.1 660.4,90.4 660.1,89.9 659.9,90.0 659.6,88.7 659.4,88.6 659.1,88.3 658.9,88.3 658.6,88.8 658.4,88.0 658.1,88.0 657.9,87.4 657.6,87.9 657.4,87.7 657.1,87.2 656.9,87.1 656.6,87.5 656.4,88.0 656.1,87.1 655.9,87.4 655.6,87.3 655.4,87.2 655.1,87.1 654.9,87.3 654.6,86.8 654.4,87.0 654.1,86.9 653.9,87.2 653.6,86.9 653.4,87.0 653.1,87.4 652.9,87.1 652.6,86.7 652.4,87.0 652.1,86.6 651.9,86.8 651.6,86.6 651.4,86.7 651.1,86.8 650.9,87.0 650.6,86.6 650.4,87.0 650.1,86.6 649.9,86.7 649.6,86.8 649.4,86.8 649.1,86.4 648.9,86.5 648.6,87.0 648.4,86.4 648.1,86.8 647.9,86.3 647.6,86.6 647.4,86.5 647.1,86.6 646.9,86.4 646.6,86.8 646.4,86.4 646.1,86.6 645.9,86.8 645.6,86.8 645.4,86.6 645.1,86.7 644.9,86.9 644.6,86.3 644.4,86.8 644.1,87.1 643.9,86.5 643.6,86.7 643.4,86.6 643.1,86.5 642.9,86.6 642.6,86.3 642.4,86.3 642.1,86.3 641.9,86.6 641.6,86.8 641.4,86.8 641.1,86.4 640.9,86.6 640.6,86.4" fill="#8020ff" stroke="#8020ff" stroke-width="1.15" stroke-linejoin="round"/>
<polygon points="683.1,56.3 683.4,56.4 683.6,56.3 683.9,56.1 684.1,55.0 684.4,56.1 684.6,56.0 684.9,56.2 685.1,56.4 685.4,56.5 685.6,55.4 685.9,56.1 686.1,55.9 686.4,56.0 686.6,56.3 686.9,56.0 687.1,56.8 687.4,56.0 687.6,55.7 687.9,56.2 688.1,55.3 688.4,56.5 688.6,56.4 688.9,55.8 689.1,56.5 689.4,55.9 689.6,56.3 689.9,56.4 690.1,55.9 690.4,56.3 690.6,56.1 690.9,56.6 691.1,55.9 691.4,56.1 691.6,56.3 691.9,55.5 692.1,55.9 692.4,56.1 692.6,56.5 692.9,56.1 693.1,56.2 693.4,55.4 693.6,56.5 693.9,56.5 694.1,56.8 694.4,56.7 694.6,56.4 694.9,56.4 695.1,56.2 695.4,56.7 695.6,56.9 695.9,56.4 696.1,56.6 696.4,56.9 696.6,57.1 696.9,56.6 697.1,56.4 697.4,57.4 697.6,57.4 697.9,57.2 698.1,56.9 698.4,56.6 698.6,57.0 698.9,57.0 699.1,57.1 699.4,56.9 699.6,57.0 699.9,57.6 700.1,57.2 700.4,57.8 700.6,56.6 700.9,57.9 701.1,57.9 701.4,57.9 701.6,58.4 701.9,58.0 702.1,57.6 702.4,58.7 702.6,59.3 702.9,59.6 703.1,59.4 703.4,60.1 703.6,60.8 703.9,61.9 704.1,62.1 704.4,63.9 704.6,65.3 704.9,66.9 705.1,68.7 705.4,73.9 705.6,78.7 705.9,85.9 706.1,96.1 706.4,105.5 706.6,110.0 706.9,105.7 707.1,96.9 707.4,86.7 707.6,78.3 707.9,73.6 708.1,70.3 708.4,67.4 708.6,64.1 708.9,63.9 709.1,62.4 709.4,62.0 709.6,60.2 709.9,60.2 710.1,59.8 710.4,60.2 710.6,59.5 710.9,58.6 711.1,58.6 711.4,59.3 711.6,58.7 711.9,58.0 712.1,58.9 712.4,58.1 712.6,58.0 712.9,58.6 713.1,57.7 713.4,58.1 713.6,58.4 713.9,57.6 714.1,57.7 714.4,58.4 714.6,57.6 714.9,58.2 715.1,58.0 715.4,57.2 715.6,57.9 715.9,57.8 716.1,56.5 716.4,57.6 716.6,57.9 716.9,58.2 717.1,58.4 717.4,57.8 717.6,58.2 717.9,57.7 718.1,58.1 718.4,56.9 718.6,57.4 718.9,57.6 719.1,57.9 719.4,57.6 719.6,57.8 719.9,57.4 720.1,58.0 720.4,56.9 720.6,57.9 720.9,57.7 721.1,57.9 721.4,57.7 721.6,57.9 721.9,57.4 722.1,58.2 722.4,57.5 722.6,57.7 722.9,57.9 723.1,57.7 723.4,58.2 723.6,57.7 723.9,58.1 724.1,57.7 724.4,57.4 724.6,57.9 724.9,58.0 725.1,58.1 725.4,57.8 725.6,57.8 725.9,56.5 726.1,57.2 726.4,58.1 726.6,58.2 726.9,57.5 727.1,57.9 727.4,57.5 727.6,58.4 727.9,58.2 728.1,57.8 728.4,58.1 728.6,57.8 728.9,57.9 729.1,58.3 729.4,58.3 729.6,58.4 729.9,57.9 730.1,58.3 730.4,57.9 730.6,57.8 730.6,59.5 730.4,59.1 730.1,59.3 729.9,59.1 729.6,59.6 729.4,59.7 729.1,59.6 728.9,59.6 728.6,59.7 728.4,59.0 728.1,59.4 727.9,59.7 727.6,58.7 727.4,59.4 727.1,59.0 726.9,58.9 726.6,58.6 726.4,58.8 726.1,59.3 725.9,59.0 725.6,59.6 725.4,58.7 725.1,59.4 724.9,59.5 724.6,59.4 724.4,58.5 724.1,59.1 723.9,58.9 723.6,59.0 723.4,59.1 723.1,59.3 722.9,59.2 722.6,58.5 722.4,58.7 722.1,59.2 721.9,59.4 721.6,58.9 721.4,59.5 721.1,58.8 720.9,59.3 720.6,58.6 720.4,59.1 720.1,58.7 719.9,58.9 719.6,59.1 719.4,59.3 719.1,59.1 718.9,59.3 718.6,59.5 718.4,59.4 718.1,59.5 717.9,59.2 717.6,59.6 717.4,59.2 717.1,59.6 716.9,59.2 716.6,59.1 716.4,58.7 716.1,58.7 715.9,59.2 715.6,58.9 715.4,59.3 715.1,59.1 714.9,58.9 714.6,59.6 714.4,59.3 714.1,59.4 713.9,59.1 713.6,59.3 713.4,59.6 713.1,60.2 712.9,59.2 712.6,59.4 712.4,59.1 712.1,60.0 711.9,60.0 711.6,59.4 711.4,59.8 711.1,60.3 710.9,60.8 710.6,60.7 710.4,60.5 710.1,61.7 709.9,61.9 709.6,62.9 709.4,62.6 709.1,63.4 708.9,64.6 708.6,66.1 708.4,68.1 708.1,71.2 707.9,74.6 707.6,80.9 707.4,88.2 707.1,98.0 706.9,107.4 706.6,111.7 706.4,107.2 706.1,98.5 705.9,88.2 705.6,80.6 705.4,74.5 705.1,71.2 704.9,68.1 704.6,66.4 704.4,64.9 704.1,63.4 703.9,62.7 703.6,62.1 703.4,61.6 703.1,61.0 702.9,61.1 702.6,59.9 702.4,60.1 702.1,59.9 701.9,59.8 701.6,59.7 701.4,59.8 701.1,58.9 700.9,59.2 700.6,58.4 700.4,58.5 700.1,58.4 699.9,58.7 699.6,58.5 699.4,58.7 699.1,58.9 698.9,58.8 698.6,58.1 698.4,59.3 698.1,58.1 697.9,59.3 697.6,57.7 697.4,57.8 697.1,57.8 696.9,58.2 696.6,58.3 696.4,58.2 696.1,57.7 695.9,57.9 695.6,57.8 695.4,58.3 695.1,57.3 694.9,57.9 694.6,57.4 694.4,57.5 694.1,58.0 693.9,57.4 693.6,57.9 693.4,57.3 693.1,57.9 692.9,57.7 692.6,57.7 692.4,57.8 692.1,57.6 691.9,57.3 691.6,57.6 691.4,57.9 691.1,57.9 690.9,57.4 690.6,57.4 690.4,57.6 690.1,57.7 689.9,57.3 689.6,57.7 689.4,57.4 689.1,58.5 688.9,57.2 688.6,58.0 688.4,57.2 688.1,57.8 687.9,58.4 687.6,58.0 687.4,57.8 687.1,57.7 686.9,57.1 686.6,57.6 686.4,57.9 686.1,57.4 685.9,57.5 685.6,57.2 685.4,57.5 685.1,57.9 684.9,57.1 684.6,58.6 684.4,57.3 684.1,57.5 683.9,56.9 683.6,57.8 683.4,57.5 683.1,57.6" fill="#ff0000" stroke="#ff0000" stroke-width="1.2" stroke-linejoin="round"/>
<line x1="466.75" y1="278.56" x2="752.25" y2="82.43" stroke="#ff0000" stroke-width="1.5"/>
<polyline points="466.75,278.32 466.90,278.32 467.05,278.32 467.20,278.33 467.35,278.34 467.50,278.35 467.65,278.36 467.80,278.38 467.95,278.40 468.10,278.42 468.25,278.45 468.40,278.47 468.55,278.50 468.70,278.54 468.85,278.57 469.00,278.61 469.15,278.66 469.30,278.70 469.45,278.75 469.60,278.81 469.75,278.86 469.90,278.92 470.05,278.99 470.20,279.06 470.35,279.13 470.50,279.21 470.65,279.30 470.80,279.39 470.95,279.48 471.10,279.59 471.25,279.70 471.40,279.82 471.55,279.95 471.70,280.09 471.85,280.25 472.00,280.42 472.15,280.62 472.30,280.85 472.45,281.12 472.60,281.49 472.75,282.40 472.75,282.40 472.76,282.28 472.78,282.15 472.80,282.03 472.84,281.90 472.89,281.77 472.95,281.65 473.02,281.52 473.10,281.38 473.19,281.25 473.30,281.11 473.41,280.97 473.54,280.82 473.67,280.67 473.82,280.52 473.98,280.37 474.14,280.20 474.32,280.04 474.51,279.87 474.71,279.69 474.93,279.51 475.15,279.33 475.38,279.14 475.63,278.94 475.88,278.74 476.15,278.53 476.43,278.32 476.71,278.10 477.01,277.87 477.32,277.64 477.64,277.40 477.97,277.16 478.32,276.91 478.67,276.65 479.03,276.39 479.41,276.12 479.79,275.84 480.19,275.56 480.60,275.27 481.02,274.97 481.45,274.66 481.89,274.35 482.34,274.03 482.80,273.71 483.27,273.38 483.75,273.04 484.25,272.69 484.75,272.34 485.27,271.98 485.80,271.61 486.33,271.24 486.88,270.85 487.44,270.47 488.01,270.07 488.59,269.67 489.19,269.26 489.79,268.84 490.40,268.41 491.03,267.98 491.66,267.54 491.66,267.54 497.16,263.75 502.66,259.96 508.17,256.18 513.67,252.41 519.17,248.63 524.67,244.86 530.17,241.09 535.67,237.32 541.17,233.55 546.67,229.78 552.17,226.01 557.68,222.25 563.18,218.48 568.68,214.71 574.18,210.94 579.68,207.18 585.18,203.41 590.68,199.64 596.18,195.87 601.68,192.11 607.19,188.34 612.69,184.57 618.19,180.81 623.69,177.04 629.19,173.27 634.69,169.51 640.19,165.74 645.69,161.97 651.19,158.21 656.70,154.44 662.20,150.68 667.70,146.91 673.20,143.14 678.70,139.38 684.20,135.61 689.70,131.84 695.20,128.08 700.70,124.31 706.20,120.55 711.71,116.78 717.21,113.01 722.71,109.25 728.21,105.48 733.71,101.72 739.21,97.95 744.71,94.18 750.21,90.42 755.71,86.65 761.22,82.88" fill="none" stroke="#0000ff" stroke-width="1.5" stroke-linejoin="round"/>
<circle cx="487.68" cy="267.21" r="2.35" fill="#ff0000"/>
<circle cx="488.67" cy="267.63" r="2.35" fill="#ff0000"/>
<circle cx="491.66" cy="262.40" r="2.35" fill="#ff0000"/>
<circle cx="492.66" cy="262.82" r="2.35" fill="#ff0000"/>
<circle cx="493.66" cy="263.30" r="2.35" fill="#ff0000"/>
<circle cx="496.64" cy="258.08" r="2.35" fill="#ff0000"/>
<circle cx="501.88" cy="254.48" r="2.35" fill="#ff0000"/>
<circle cx="505.36" cy="251.77" r="2.35" fill="#ff0000"/>
<circle cx="506.61" cy="251.17" r="2.35" fill="#ff0000"/>
<circle cx="509.10" cy="249.67" r="2.35" fill="#ff0000"/>
<circle cx="513.34" cy="246.67" r="2.35" fill="#ff0000"/>
<circle cx="527.04" cy="237.74" r="2.35" fill="#ff0000"/>
<circle cx="530.03" cy="235.69" r="2.35" fill="#ff0000"/>
<circle cx="540.24" cy="228.67" r="2.35" fill="#ff0000"/>
<circle cx="550.46" cy="221.65" r="2.35" fill="#ff0000"/>
<circle cx="556.19" cy="217.72" r="2.35" fill="#ff0000"/>
<circle cx="558.68" cy="216.01" r="2.35" fill="#ff0000"/>
<circle cx="585.33" cy="197.69" r="2.35" fill="#ff0000"/>
<circle cx="601.53" cy="186.57" r="2.35" fill="#ff0000"/>
<circle cx="621.71" cy="172.71" r="2.35" fill="#ff0000"/>
<circle cx="637.90" cy="161.58" r="2.35" fill="#ff0000"/>
<circle cx="647.37" cy="155.08" r="2.35" fill="#ff0000"/>
<circle cx="655.84" cy="149.26" r="2.35" fill="#ff0000"/>
<circle cx="687.97" cy="127.18" r="2.35" fill="#ff0000"/>
<circle cx="710.64" cy="111.61" r="2.35" fill="#ff0000"/>
<circle cx="725.84" cy="101.17" r="2.35" fill="#ff0000"/>
<circle cx="749.51" cy="84.91" r="2.35" fill="#ff0000"/>
<rect x="487.82" y="266.31" width="4.2" height="4.2" fill="#0000ff"/>
<rect x="495.54" y="260.90" width="4.2" height="4.2" fill="#0000ff"/>
<rect x="501.27" y="254.72" width="4.2" height="4.2" fill="#0000ff"/>
<rect x="507.50" y="252.80" width="4.2" height="4.2" fill="#0000ff"/>
<rect x="508.50" y="252.20" width="4.2" height="4.2" fill="#0000ff"/>
<rect x="514.23" y="248.17" width="4.2" height="4.2" fill="#0000ff"/>
<rect x="517.71" y="245.89" width="4.2" height="4.2" fill="#0000ff"/>
<rect x="533.16" y="235.50" width="4.2" height="4.2" fill="#0000ff"/>
<rect x="539.89" y="230.89" width="4.2" height="4.2" fill="#0000ff"/>
<rect x="548.61" y="224.92" width="4.2" height="4.2" fill="#0000ff"/>
<rect x="561.81" y="215.88" width="4.2" height="4.2" fill="#0000ff"/>
<rect x="590.21" y="196.43" width="4.2" height="4.2" fill="#0000ff"/>
<rect x="602.17" y="188.24" width="4.2" height="4.2" fill="#0000ff"/>
<rect x="618.86" y="176.81" width="4.2" height="4.2" fill="#0000ff"/>
<rect x="641.78" y="161.12" width="4.2" height="4.2" fill="#0000ff"/>
<rect x="660.96" y="147.98" width="4.2" height="4.2" fill="#0000ff"/>
<rect x="681.14" y="134.17" width="4.2" height="4.2" fill="#0000ff"/>
<rect x="704.31" y="118.31" width="4.2" height="4.2" fill="#0000ff"/>
<rect x="729.72" y="100.91" width="4.2" height="4.2" fill="#0000ff"/>
<rect x="742.42" y="92.21" width="4.2" height="4.2" fill="#0000ff"/>
<rect x="476.51" y="275.30" width="3.4" height="3.4" fill="#fff" stroke="#0000ff" stroke-width="0.95"/>
<rect x="466.75" y="42.2" width="298.95000000000005" height="240.2" fill="none" stroke="#000" stroke-width="1.15"/>
<path d="M466.75,282.4v-5.8 M466.75,42.2v5.8 M472.98,282.4v-3.4 M472.98,42.2v3.4 M479.21,282.4v-3.4 M479.21,42.2v3.4 M485.43,282.4v-3.4 M485.43,42.2v3.4 M491.66,282.4v-5.8 M491.66,42.2v5.8 M497.89,282.4v-3.4 M497.89,42.2v3.4 M504.12,282.4v-3.4 M504.12,42.2v3.4 M510.35,282.4v-3.4 M510.35,42.2v3.4 M516.58,282.4v-5.8 M516.58,42.2v5.8 M522.80,282.4v-3.4 M522.80,42.2v3.4 M529.03,282.4v-3.4 M529.03,42.2v3.4 M535.26,282.4v-3.4 M535.26,42.2v3.4 M541.49,282.4v-5.8 M541.49,42.2v5.8 M547.72,282.4v-3.4 M547.72,42.2v3.4 M553.94,282.4v-3.4 M553.94,42.2v3.4 M560.17,282.4v-3.4 M560.17,42.2v3.4 M566.40,282.4v-5.8 M566.40,42.2v5.8 M572.63,282.4v-3.4 M572.63,42.2v3.4 M578.86,282.4v-3.4 M578.86,42.2v3.4 M585.08,282.4v-3.4 M585.08,42.2v3.4 M591.31,282.4v-5.8 M591.31,42.2v5.8 M597.54,282.4v-3.4 M597.54,42.2v3.4 M603.77,282.4v-3.4 M603.77,42.2v3.4 M610.00,282.4v-3.4 M610.00,42.2v3.4 M616.23,282.4v-5.8 M616.23,42.2v5.8 M622.45,282.4v-3.4 M622.45,42.2v3.4 M628.68,282.4v-3.4 M628.68,42.2v3.4 M634.91,282.4v-3.4 M634.91,42.2v3.4 M641.14,282.4v-5.8 M641.14,42.2v5.8 M647.37,282.4v-3.4 M647.37,42.2v3.4 M653.59,282.4v-3.4 M653.59,42.2v3.4 M659.82,282.4v-3.4 M659.82,42.2v3.4 M666.05,282.4v-5.8 M666.05,42.2v5.8 M672.28,282.4v-3.4 M672.28,42.2v3.4 M678.51,282.4v-3.4 M678.51,42.2v3.4 M684.73,282.4v-3.4 M684.73,42.2v3.4 M690.96,282.4v-5.8 M690.96,42.2v5.8 M697.19,282.4v-3.4 M697.19,42.2v3.4 M703.42,282.4v-3.4 M703.42,42.2v3.4 M709.65,282.4v-3.4 M709.65,42.2v3.4 M715.88,282.4v-5.8 M715.88,42.2v5.8 M722.10,282.4v-3.4 M722.10,42.2v3.4 M728.33,282.4v-3.4 M728.33,42.2v3.4 M734.56,282.4v-3.4 M734.56,42.2v3.4 M740.79,282.4v-5.8 M740.79,42.2v5.8 M747.02,282.4v-3.4 M747.02,42.2v3.4 M753.24,282.4v-3.4 M753.24,42.2v3.4 M759.47,282.4v-3.4 M759.47,42.2v3.4 M765.70,282.4v-5.8 M765.70,42.2v5.8 M466.75,282.40h5.8 M466.75,276.39h3.4 M466.75,270.39h3.4 M466.75,264.38h3.4 M466.75,258.38h3.4 M466.75,252.37h5.8 M466.75,246.37h3.4 M466.75,240.36h3.4 M466.75,234.36h3.4 M466.75,228.35h3.4 M466.75,222.35h5.8 M466.75,216.34h3.4 M466.75,210.34h3.4 M466.75,204.33h3.4 M466.75,198.33h3.4 M466.75,192.32h5.8 M466.75,186.32h3.4 M466.75,180.31h3.4 M466.75,174.31h3.4 M466.75,168.31h3.4 M466.75,162.30h5.8 M466.75,156.29h3.4 M466.75,150.29h3.4 M466.75,144.28h3.4 M466.75,138.28h3.4 M466.75,132.28h5.8 M466.75,126.27h3.4 M466.75,120.26h3.4 M466.75,114.26h3.4 M466.75,108.25h3.4 M466.75,102.25h5.8 M466.75,96.25h3.4 M466.75,90.24h3.4 M466.75,84.24h3.4 M466.75,78.23h3.4 M466.75,72.22h5.8 M466.75,66.22h3.4 M466.75,60.22h3.4 M466.75,54.21h3.4 M466.75,48.21h3.4 M466.75,42.20h5.8 M765.7,53.30h-3.4 M765.7,67.47h-5.8 M765.7,81.64h-3.4 M765.7,95.81h-5.8 M765.7,109.98h-3.4 M765.7,124.15h-5.8 M765.7,138.32h-3.4 M765.7,152.49h-5.8 M765.7,166.66h-3.4 M765.7,180.83h-5.8 M765.7,195.00h-3.4 M765.7,209.17h-5.8 M765.7,223.34h-3.4 M765.7,237.51h-5.8 M765.7,251.68h-3.4 M765.7,265.85h-5.8 M765.7,280.02h-3.4" stroke="#000" stroke-width="1.0" fill="none"/>
<text x="466.75" y="296.09999999999997" font-size="10.25" text-anchor="middle">0</text>
<text x="491.66" y="296.09999999999997" font-size="10.25" text-anchor="middle">1</text>
<text x="516.58" y="296.09999999999997" font-size="10.25" text-anchor="middle">2</text>
<text x="541.49" y="296.09999999999997" font-size="10.25" text-anchor="middle">3</text>
<text x="566.40" y="296.09999999999997" font-size="10.25" text-anchor="middle">4</text>
<text x="591.31" y="296.09999999999997" font-size="10.25" text-anchor="middle">5</text>
<text x="616.23" y="296.09999999999997" font-size="10.25" text-anchor="middle">6</text>
<text x="641.14" y="296.09999999999997" font-size="10.25" text-anchor="middle">7</text>
<text x="666.05" y="296.09999999999997" font-size="10.25" text-anchor="middle">8</text>
<text x="690.96" y="296.09999999999997" font-size="10.25" text-anchor="middle">9</text>
<text x="715.88" y="296.09999999999997" font-size="10.25" text-anchor="middle">10</text>
<text x="740.79" y="296.09999999999997" font-size="10.25" text-anchor="middle">11</text>
<text x="765.70" y="296.09999999999997" font-size="10.25" text-anchor="middle">12</text>
<text x="461.15" y="286.10" font-size="10.25" text-anchor="end">0</text>
<text x="461.15" y="256.07" font-size="10.25" text-anchor="end">50</text>
<text x="461.15" y="226.05" font-size="10.25" text-anchor="end">100</text>
<text x="461.15" y="196.02" font-size="10.25" text-anchor="end">150</text>
<text x="461.15" y="166.00" font-size="10.25" text-anchor="end">200</text>
<text x="461.15" y="135.97" font-size="10.25" text-anchor="end">250</text>
<text x="461.15" y="105.95" font-size="10.25" text-anchor="end">300</text>
<text x="461.15" y="75.92" font-size="10.25" text-anchor="end">350</text>
<text x="461.15" y="45.90" font-size="10.25" text-anchor="end">400</text>
<text x="478.2" y="189.5" font-size="7.0" stroke="#000" stroke-width="0.12">32.4 GHz</text>
<text x="516.7" y="157.2" font-size="7.0" stroke="#000" stroke-width="0.12">82.8 GHz</text>
<text x="575.2" y="132.3" font-size="7.0" stroke="#000" stroke-width="0.12">140.5 GHz</text>
<text x="641.3" y="81.7" font-size="7.0" stroke="#000" stroke-width="0.12">220.8 GHz</text>
<text x="687.3" y="52.7" font-size="7.0" stroke="#000" stroke-width="0.12">271.1 GHz</text>
<text x="479.7" y="61.1" font-size="11.9"><tspan class="it">T</tspan> = 4 K</text>
<circle cx="484.80" cy="71.30" r="2.5" fill="#ff0000"/>
<text x="500.90000000000003" y="75.7" font-size="11.3" class="it">H</text>
<path d="M513.1,68.0v9.8M515.6,68.0v9.8" stroke="#000" stroke-width="0.95" fill="none"/>
<rect x="482.60" y="85.20" width="4.4" height="4.4" fill="#0000ff"/>
<text x="500.90000000000003" y="90.9" font-size="11.3" class="it">H</text>
<path d="M512.3000000000001,90.60000000000001h7.0M515.8000000000001,90.60000000000001v-7" stroke="#222" stroke-width="0.75" fill="none"/>
<text x="519.5" y="75.7" font-size="11.3">c</text>
<text x="522.2" y="90.9" font-size="11.3">c</text>
<text transform="translate(421.4,30.6) scale(0.93,1)" font-size="17.9">(b)</text>
<text transform="translate(438.5,162.7) rotate(-90)" font-size="12.6" text-anchor="middle">ν (GHz)</text>
<text x="590.15" y="316.3" font-size="12.4">μ</text>
<text x="596.75" y="320.6" font-size="7.9">0</text>
<text x="603.15" y="316.3" font-size="12.6" class="it">H</text>
<text x="612.35" y="320.6" font-size="7.9">res</text>
<text x="625.85" y="316.3" font-size="12.6">(T)</text>
<text transform="translate(784.1,164.6) rotate(-90)" font-size="12.15" text-anchor="middle">Normalized signal intensity (arb. units)</text>
<rect x="636.6" y="173.5" width="118.0" height="87.60000000000002" fill="#fff"/>
<clipPath id="ic"><rect x="636.6" y="173.5" width="118.0" height="87.60000000000002"/></clipPath>
<g clip-path="url(#ic)">
<line x1="636.60" y1="253.62" x2="759.32" y2="167.08" stroke="#ff0000" stroke-width="1.1"/>
<polyline points="636.60,253.16 636.88,253.16 637.17,253.17 637.45,253.18 637.74,253.20 638.02,253.22 638.31,253.25 638.59,253.28 638.88,253.32 639.16,253.36 639.44,253.41 639.73,253.46 640.01,253.52 640.30,253.59 640.58,253.66 640.87,253.74 641.15,253.82 641.43,253.91 641.72,254.01 642.00,254.11 642.29,254.22 642.57,254.34 642.86,254.47 643.14,254.60 643.43,254.75 643.71,254.90 643.99,255.06 644.28,255.24 644.56,255.43 644.85,255.63 645.13,255.85 645.42,256.08 645.70,256.33 645.98,256.61 646.27,256.92 646.55,257.25 646.84,257.64 647.12,258.08 647.41,258.62 647.69,259.34 647.98,261.10 647.98,261.10 647.99,260.86 648.02,260.62 648.07,260.38 648.14,260.13 648.23,259.88 648.35,259.63 648.48,259.38 648.63,259.12 648.81,258.86 649.00,258.59 649.22,258.31 649.46,258.03 649.71,257.74 649.99,257.45 650.29,257.14 650.61,256.83 650.95,256.51 651.31,256.18 651.69,255.84 652.09,255.49 652.51,255.13 652.96,254.76 653.42,254.37 653.90,253.98 654.41,253.58 654.93,253.16 655.48,252.74 656.04,252.30 656.63,251.85 657.24,251.38 657.87,250.91 658.51,250.42 659.18,249.92 659.87,249.41 660.58,248.88 661.31,248.34 662.06,247.79 662.84,247.22 663.63,246.64 664.44,246.05 665.28,245.45 666.13,244.83 667.00,244.20 667.90,243.55 668.82,242.89 669.75,242.22 670.71,241.53 671.69,240.83 672.69,240.11 673.70,239.39 674.74,238.64 675.80,237.89 676.88,237.12 677.99,236.33 679.11,235.53 680.25,234.72 681.41,233.90 682.60,233.06 683.80,232.20 683.80,232.20 685.34,231.11 686.88,230.02 688.42,228.92 689.96,227.83 691.51,226.74 693.05,225.65 694.59,224.56 696.13,223.47 697.67,222.38 699.21,221.29 700.75,220.21 702.29,219.12 703.84,218.03 705.38,216.94 706.92,215.86 708.46,214.77 710.00,213.68 711.54,212.59 713.08,211.51 714.62,210.42 716.17,209.33 717.71,208.25 719.25,207.16 720.79,206.08 722.33,204.99 723.87,203.90 725.41,202.82 726.95,201.73 728.50,200.65 730.04,199.56 731.58,198.48 733.12,197.39 734.66,196.31 736.20,195.22 737.74,194.14 739.28,193.05 740.83,191.97 742.37,190.88 743.91,189.80 745.45,188.71 746.99,187.63 748.53,186.54 750.07,185.46 751.61,184.37 753.16,183.29 754.70,182.20 756.24,181.12 757.78,180.03 759.32,178.95" fill="none" stroke="#0000ff" stroke-width="1.2" stroke-linejoin="round"/>
</g>
<circle cx="676.25" cy="231.55" r="1.9" fill="#ff0000"/>
<circle cx="678.14" cy="232.37" r="1.9" fill="#ff0000"/>
<circle cx="683.80" cy="222.21" r="1.9" fill="#ff0000"/>
<circle cx="685.69" cy="223.02" r="1.9" fill="#ff0000"/>
<circle cx="687.58" cy="223.96" r="1.9" fill="#ff0000"/>
<circle cx="693.24" cy="213.80" r="1.9" fill="#ff0000"/>
<circle cx="703.15" cy="206.79" r="1.9" fill="#ff0000"/>
<circle cx="709.76" cy="201.53" r="1.9" fill="#ff0000"/>
<circle cx="712.12" cy="200.36" r="1.9" fill="#ff0000"/>
<circle cx="716.84" cy="197.44" r="1.9" fill="#ff0000"/>
<circle cx="724.86" cy="191.60" r="1.9" fill="#ff0000"/>
<path d="M688.24,213.80h10" stroke="#ff0000" stroke-width="0.7"/>
<rect x="678.70" y="232.09" width="3.6" height="3.6" fill="#0000ff"/>
<rect x="693.33" y="221.57" width="3.6" height="3.6" fill="#0000ff"/>
<rect x="704.18" y="209.54" width="3.6" height="3.6" fill="#0000ff"/>
<rect x="715.98" y="205.81" width="3.6" height="3.6" fill="#0000ff"/>
<rect x="717.87" y="204.64" width="3.6" height="3.6" fill="#0000ff"/>
<rect x="728.73" y="196.81" width="3.6" height="3.6" fill="#0000ff"/>
<rect x="735.34" y="192.37" width="3.6" height="3.6" fill="#0000ff"/>
<rect x="656.71" y="248.99" width="3.2" height="3.2" fill="#fff" stroke="#0000ff" stroke-width="0.9"/>
<rect x="636.6" y="173.5" width="118.0" height="87.60000000000002" fill="none" stroke="#000" stroke-width="0.9"/>
<path d="M636.60,261.1v-2.3 M636.60,173.5v2.3 M648.40,261.1v-1.3 M648.40,173.5v1.3 M660.20,261.1v-2.3 M660.20,173.5v2.3 M672.00,261.1v-1.3 M672.00,173.5v1.3 M683.80,261.1v-2.3 M683.80,173.5v2.3 M695.60,261.1v-1.3 M695.60,173.5v1.3 M707.40,261.1v-2.3 M707.40,173.5v2.3 M719.20,261.1v-1.3 M719.20,173.5v1.3 M731.00,261.1v-2.3 M731.00,173.5v2.3 M742.80,261.1v-1.3 M742.80,173.5v1.3 M754.60,261.1v-2.3 M754.60,173.5v2.3 M636.6,261.10h2.3 M754.6,261.10h-2.3 M636.6,249.42h1.3 M754.6,249.42h-1.3 M636.6,237.74h2.3 M754.6,237.74h-2.3 M636.6,226.06h1.3 M754.6,226.06h-1.3 M636.6,214.38h2.3 M754.6,214.38h-2.3 M636.6,202.70h1.3 M754.6,202.70h-1.3 M636.6,191.02h2.3 M754.6,191.02h-2.3 M636.6,179.34h1.3 M754.6,179.34h-1.3" stroke="#000" stroke-width="0.8" fill="none"/>
<text x="636.60" y="268.0" font-size="7.1" text-anchor="middle">0</text>
<text x="660.20" y="268.0" font-size="7.1" text-anchor="middle">0.5</text>
<text x="683.80" y="268.0" font-size="7.1" text-anchor="middle">1.0</text>
<text x="707.40" y="268.0" font-size="7.1" text-anchor="middle">1.5</text>
<text x="731.00" y="268.0" font-size="7.1" text-anchor="middle">2.0</text>
<text x="754.60" y="268.0" font-size="7.1" text-anchor="middle">2.5</text>
<text x="635.8000000000001" y="263.80" font-size="7.6" text-anchor="end">0</text>
<text x="635.8000000000001" y="240.44" font-size="7.6" text-anchor="end">20</text>
<text x="635.8000000000001" y="217.08" font-size="7.6" text-anchor="end">40</text>
<text x="635.8000000000001" y="193.72" font-size="7.6" text-anchor="end">60</text>
<text transform="translate(622.6,217) rotate(-90)" font-size="9.1" text-anchor="middle">ν (GHz)</text>
<g transform="translate(676.0,277.7) scale(0.9,1)"><text x="0" y="0" font-size="10.5">μ</text><text x="5.6" y="3.3" font-size="6.6">0</text><text x="10.9" y="0" font-size="10.6" class="it">H</text><text x="18.6" y="3.3" font-size="6.6">res</text><text x="29.9" y="0" font-size="10.6">(T)</text></g>
</svg></body></html>
